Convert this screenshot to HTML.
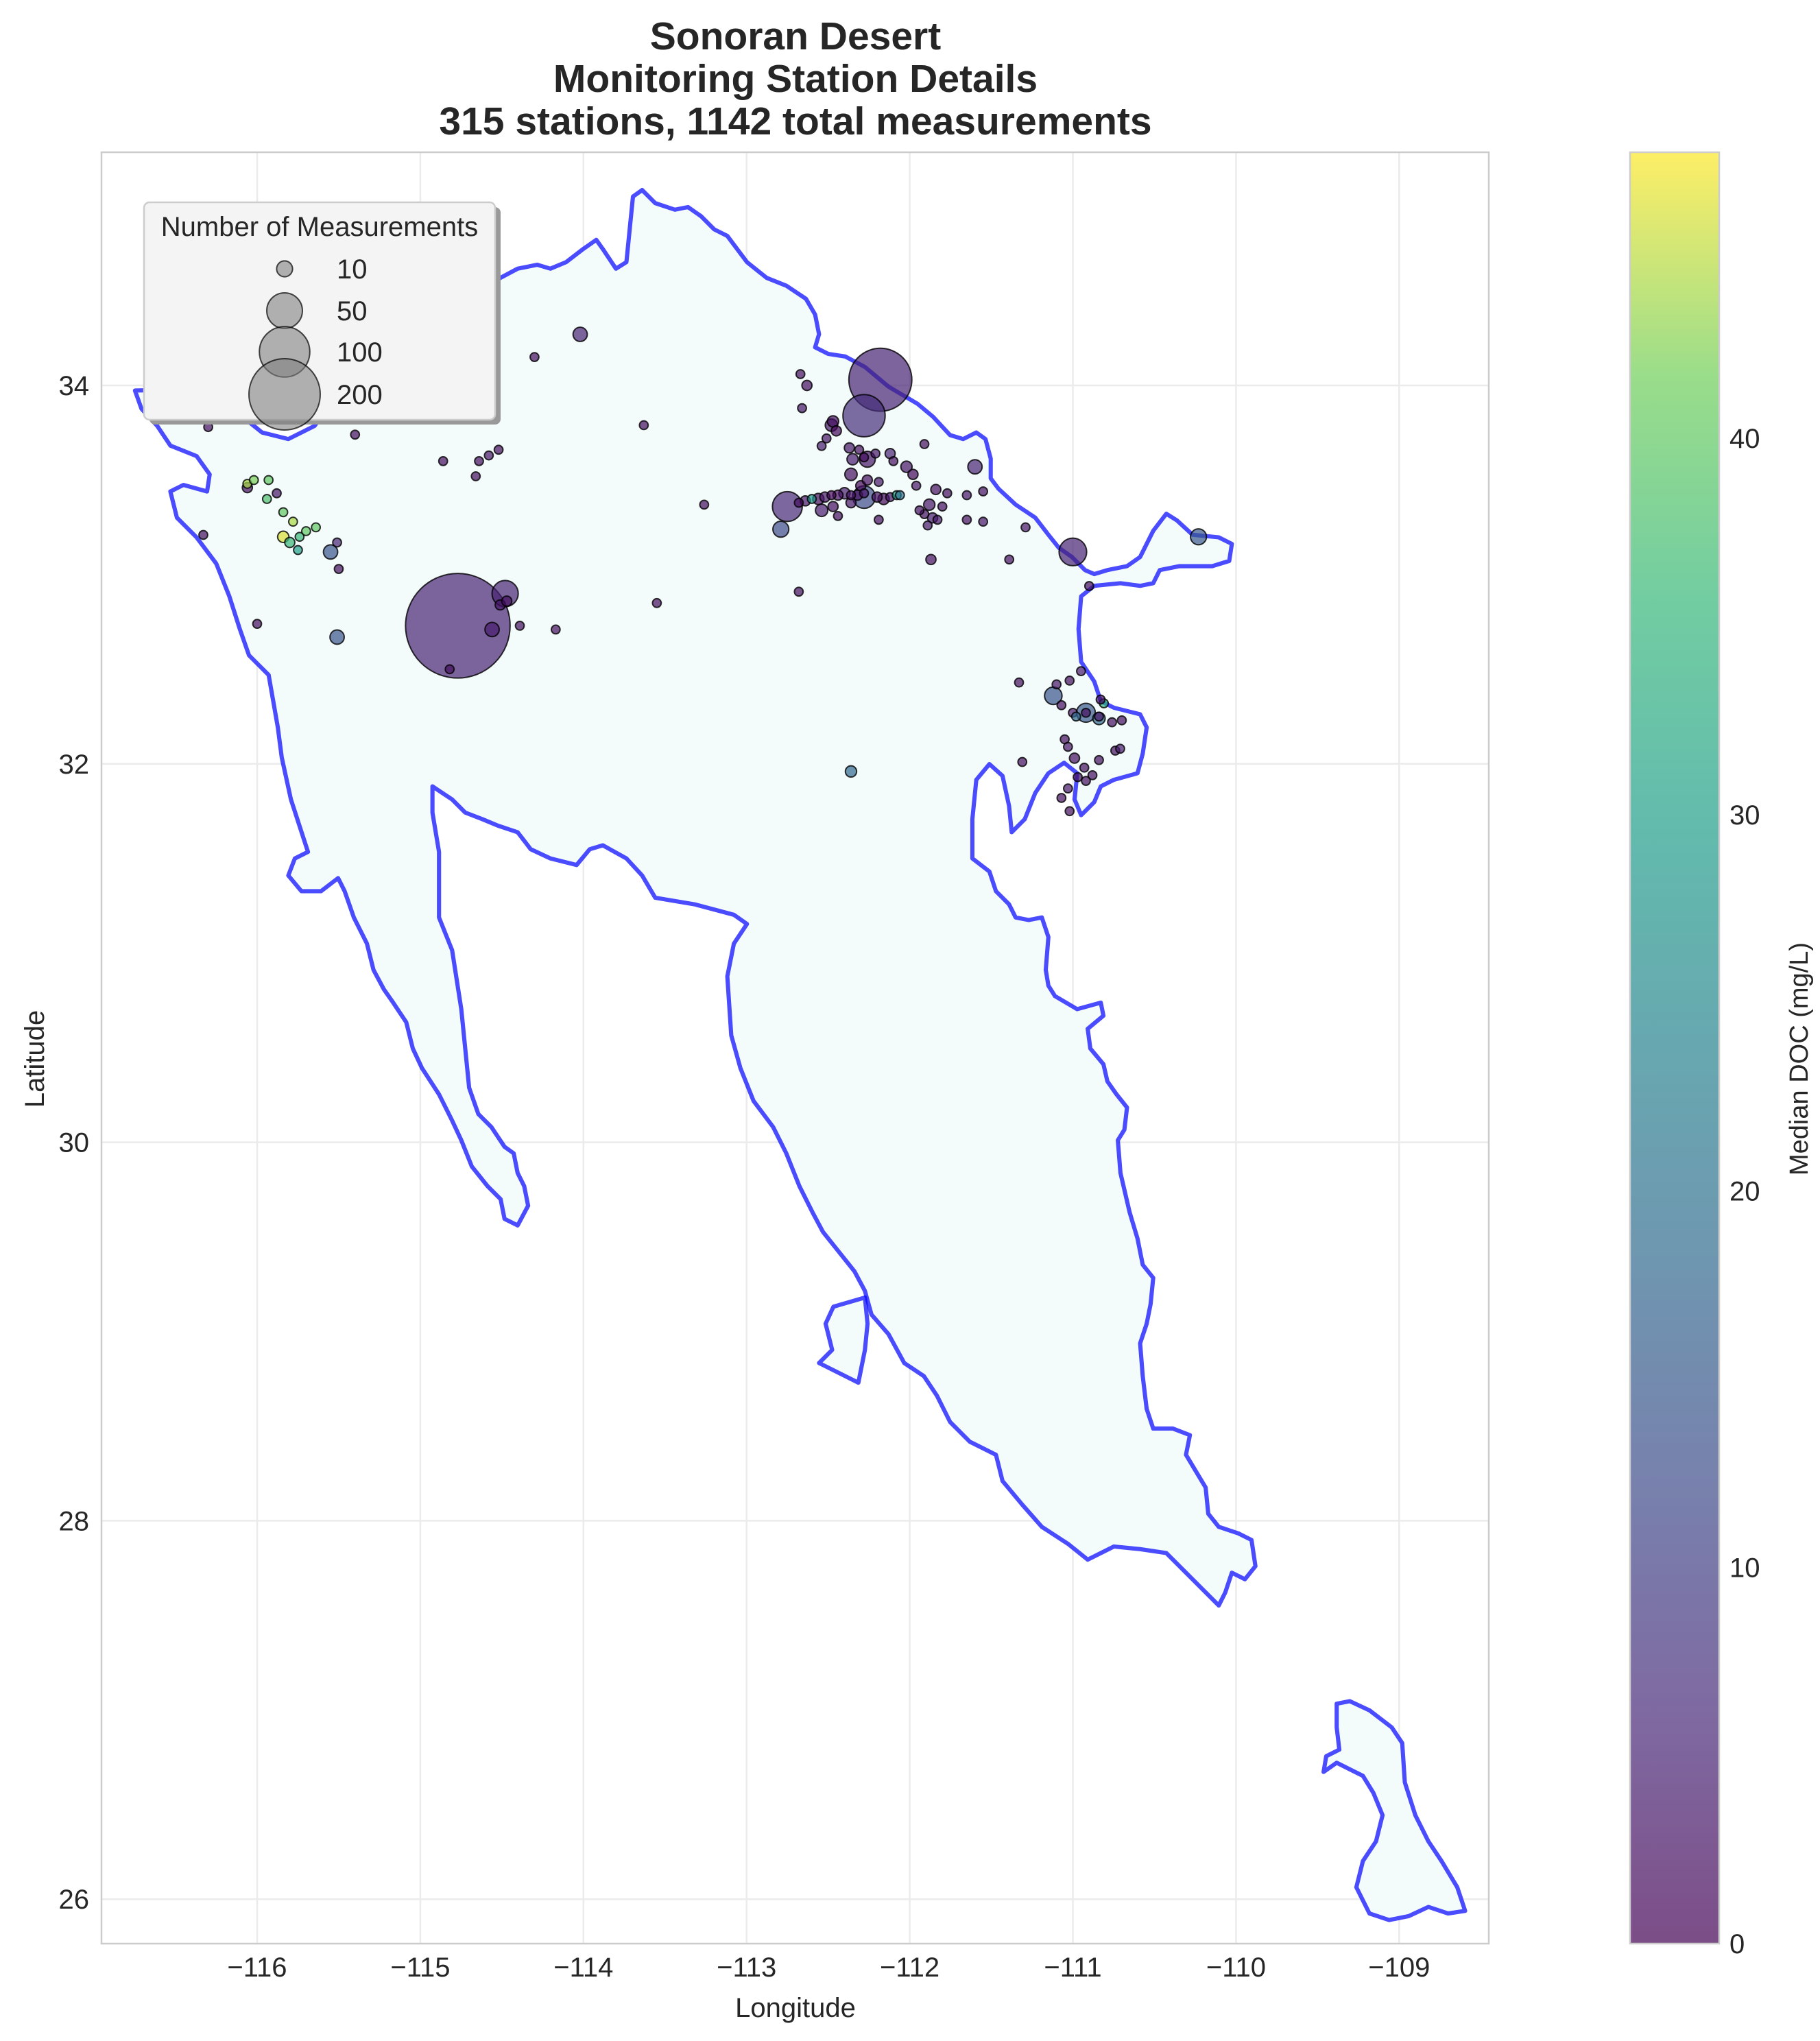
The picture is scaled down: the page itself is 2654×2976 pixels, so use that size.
<!DOCTYPE html>
<html><head><meta charset="utf-8"><style>
html,body{margin:0;padding:0;background:#fff}
svg{display:block;font-family:"Liberation Sans",sans-serif}
</style></head><body>
<svg id="chart" width="2654" height="2976" viewBox="0 0 2654 2976" xmlns="http://www.w3.org/2000/svg">
<defs>
<linearGradient id="viridis" x1="0" y1="1" x2="0" y2="0">
<stop offset="0" stop-color="#440154"/><stop offset="0.125" stop-color="#482878"/><stop offset="0.25" stop-color="#3e4989"/><stop offset="0.375" stop-color="#31688e"/><stop offset="0.5" stop-color="#26828e"/><stop offset="0.625" stop-color="#1f9e89"/><stop offset="0.75" stop-color="#35b779"/><stop offset="0.875" stop-color="#6ece58"/><stop offset="1" stop-color="#fde725"/>
</linearGradient>
<clipPath id="axclip"><rect x="148" y="222" width="2023" height="2612"/></clipPath>
</defs>
<text x="1160" y="72" text-anchor="middle" font-size="57" font-weight="bold" fill="#262626">Sonoran Desert</text>
<text x="1160" y="134" text-anchor="middle" font-size="57" font-weight="bold" fill="#262626">Monitoring Station Details</text>
<text x="1160" y="196" text-anchor="middle" font-size="57" font-weight="bold" fill="#262626">315 stations, 1142 total measurements</text>
<rect x="148" y="222" width="2023" height="2612" fill="#fff"/>
<g id="grid"></g>
<g clip-path="url(#axclip)">
<g transform="scale(1.911)" fill="#f4fbfb" stroke="rgba(0,0,255,0.7)" stroke-width="3.2" stroke-linejoin="round">
<path d="M103,298 L150,297 L175,310 L200,330 L220,335 L240,325 L258,300 L268,270 L270,238 L290,235 L310,245 L325,240 L330,225 L345,215 L360,210 L380,213 L395,205 L410,202 L420,205 L432,200 L445,190 L455,183 L460,190 L470,205 L478,200 L480,180 L483,150 L490,145 L500,155 L515,160 L525,158 L535,165 L545,175 L555,180 L570,200 L585,212 L600,218 L615,228 L622,240 L625,255 L622,265 L632,270 L645,272 L660,280 L678,295 L700,308 L712,318 L725,332 L735,335 L745,330 L752,335 L756,350 L756,365 L762,373 L775,385 L790,395 L800,408 L808,418 L818,425 L828,435 L835,438 L845,435 L860,432 L870,425 L880,405 L890,392 L898,397 L910,408 L930,410 L940,415 L938,428 L925,432 L900,432 L885,435 L880,445 L870,447 L855,445 L835,447 L825,455 L823,480 L825,505 L835,520 L840,535 L850,540 L870,545 L875,555 L872,575 L868,590 L850,595 L840,600 L835,612 L825,622 L820,610 L822,590 L812,582 L800,590 L790,605 L782,625 L772,635 L770,615 L765,592 L755,583 L745,595 L742,625 L742,655 L755,665 L760,680 L770,690 L775,700 L785,702 L795,700 L800,715 L798,740 L800,752 L805,760 L822,770 L840,765 L842,775 L830,785 L832,800 L842,812 L845,825 L852,835 L860,845 L858,862 L853,870 L855,895 L862,925 L868,945 L872,965 L880,975 L878,995 L875,1010 L870,1025 L872,1050 L875,1075 L880,1090 L895,1090 L908,1095 L905,1110 L920,1135 L922,1155 L930,1165 L945,1170 L955,1175 L958,1195 L950,1205 L940,1200 L935,1215 L930,1225 L920,1215 L910,1205 L900,1195 L890,1185 L870,1182 L850,1180 L830,1190 L815,1178 L795,1165 L780,1148 L765,1130 L760,1110 L740,1100 L725,1085 L715,1065 L705,1050 L690,1040 L678,1018 L665,1003 L660,985 L652,970 L640,955 L628,940 L620,925 L610,905 L600,880 L590,860 L575,840 L565,815 L558,790 L555,745 L560,720 L570,705 L560,698 L530,690 L500,685 L490,668 L478,655 L460,645 L450,648 L440,660 L420,655 L405,648 L395,635 L380,630 L368,625 L355,620 L345,610 L330,600 L330,620 L335,650 L335,700 L345,725 L352,770 L355,800 L358,830 L365,850 L375,860 L385,875 L392,880 L395,895 L400,905 L403,920 L395,935 L385,930 L382,915 L372,905 L360,890 L352,870 L345,855 L335,835 L322,815 L315,800 L310,780 L300,765 L293,755 L285,740 L280,720 L270,700 L263,680 L258,670 L245,680 L230,680 L220,668 L225,655 L235,650 L222,610 L215,578 L212,555 L205,515 L190,500 L183,480 L175,455 L165,430 L150,410 L135,395 L130,375 L140,370 L158,375 L160,362 L150,348 L130,340 L120,325 L108,312 Z"/>
<path d="M1020,1300 L1030,1298 L1045,1305 L1062,1318 L1070,1330 L1072,1360 L1080,1385 L1090,1405 L1100,1420 L1112,1440 L1118,1458 L1105,1460 L1090,1455 L1075,1462 L1060,1465 L1045,1460 L1035,1440 L1040,1420 L1050,1405 L1055,1385 L1048,1368 L1040,1355 L1030,1350 L1020,1345 L1010,1352 L1012,1340 L1022,1335 L1020,1318 Z"/>
<path d="M636,997 L660,990 L662,1010 L660,1030 L655,1055 L645,1050 L625,1040 L635,1030 L630,1010 Z"/>
</g>
<g id="points"></g>
</g>
<rect x="148" y="222" width="2023" height="2612" fill="none" stroke="#cccccc" stroke-width="2.5"/>
<g id="ticks"></g>
<text x="1160" y="2941" text-anchor="middle" font-size="40" fill="#262626">Longitude</text>
<text transform="translate(64,1544) rotate(-90)" text-anchor="middle" font-size="40" fill="#262626">Latitude</text>
<g>
<rect x="218" y="302" width="512" height="317" rx="8" fill="#999"/>
<rect x="210" y="295" width="512" height="317" rx="8" fill="#f4f4f4" stroke="#cccccc" stroke-width="2.5"/>
<text x="466" y="344" text-anchor="middle" font-size="40" fill="#262626">Number of Measurements</text>
<g id="legendItems"></g>
</g>
<rect x="2377" y="222" width="130" height="2612" fill="url(#viridis)" opacity="0.7"/>
<rect x="2377" y="222" width="130" height="2612" fill="none" stroke="#cccccc" stroke-width="2.5"/>
<g id="cbticks"></g>
<text transform="translate(2636,1544) rotate(-90)" text-anchor="middle" font-size="38" fill="#262626">Median DOC (mg/L)</text>
</svg>
<script>
const xTicks=[-116,-115,-114,-113,-112,-111,-110,-109];
const yTicks=[26,28,30,32,34];
const cbTicks=[0,10,20,30,40];
const legendCounts=[10,50,100,200];
const stationLon=[-114.77,-114.48,-114.56,-114.51,-114.47,-112.18,-112.28,-112.75,-112.28,-111.00,-112.79,-110.23,-111.60,-114.02,-115.51,-112.36,-111.12,-110.92,-110.84,-115.55,-115.75,
-116.06,-116.02,-115.93,-115.94,-115.88,-115.84,-115.84,-115.78,-115.74,-115.70,-115.64,-115.80,-116.06,-115.51,-115.50,-116.00,-116.33,-115.40,-116.30,
-112.68,-112.64,-112.60,-112.56,-112.52,-112.48,-112.44,-112.40,-112.36,-112.32,-112.28,-112.20,-112.16,-112.12,-112.08,-112.06,-112.54,-112.47,-112.36,-112.44,-112.30,-112.26,-112.19,-112.35,-112.28,-112.21,-112.31,-112.37,-112.12,-112.10,-112.02,-111.91,-111.98,-111.96,-111.84,-111.80,-111.88,-111.86,-111.91,-111.83,-111.89,-111.94,-111.77,-111.65,-111.55,-111.65,-111.55,-111.39,-111.29,-111.87,-112.19,-112.48,-112.47,-112.45,-112.51,-112.54,-112.36,-112.26,-112.63,-112.67,-112.66,
-113.63,-114.30,-114.86,-114.64,-114.58,-114.52,-114.66,-114.82,-114.39,-114.17,-113.55,-113.26,-112.68,-110.90,-111.33,-111.10,-111.02,-110.95,-111.07,-111.00,-110.98,-110.92,-110.84,-110.76,-111.05,-111.03,-110.99,-110.93,-110.92,-110.88,-110.97,-111.03,-111.07,-111.02,-110.84,-110.74,-110.71,-111.31,-110.81,-110.83,-110.70];
const stationLat=[32.73,32.90,32.71,32.84,32.86,34.03,33.84,33.36,33.41,33.12,33.24,33.20,33.57,34.27,32.67,31.96,32.36,32.27,32.24,33.12,33.13,
33.48,33.50,33.50,33.40,33.43,33.33,33.20,33.28,33.20,33.23,33.25,33.17,33.46,33.17,33.03,32.74,33.21,33.74,33.78,
33.38,33.39,33.40,33.40,33.41,33.42,33.42,33.43,33.42,33.42,33.43,33.41,33.40,33.41,33.42,33.42,33.34,33.36,33.38,33.31,33.47,33.50,33.49,33.61,33.62,33.64,33.66,33.67,33.64,33.60,33.57,33.69,33.53,33.47,33.45,33.36,33.37,33.30,33.32,33.29,33.26,33.34,33.43,33.42,33.44,33.29,33.28,33.08,33.25,33.08,33.29,33.79,33.81,33.76,33.72,33.68,33.53,33.61,34.00,34.06,33.88,
33.79,34.15,33.60,33.60,33.63,33.66,33.52,32.50,32.73,32.71,32.85,33.37,32.91,32.94,32.43,32.42,32.44,32.49,32.31,32.27,32.25,32.27,32.25,32.22,32.13,32.09,32.03,31.98,31.91,31.94,31.93,31.87,31.82,31.75,32.02,32.07,32.08,32.01,32.32,32.34,32.23];
const stationCount=[430,27,8,4,4,156,70,35,20,30,10,10,8,8,8,5,12,14,6,8,3,
3,3,3,3,3,3,5,3,3,3,3,4,4,3,3,3,3,3,3,
3,4,3,5,4,3,4,5,3,4,3,4,5,3,3,3,6,4,4,3,4,4,3,5,3,3,3,4,4,3,5,3,4,3,4,3,5,4,3,3,3,3,3,3,3,3,3,3,3,4,3,6,5,4,3,3,6,10,4,3,3,
3,3,3,3,3,3,3,3,3,3,3,3,3,3,3,3,3,3,3,3,3,3,3,3,3,3,4,3,3,3,3,3,3,3,3,3,3,3,3,3,3];
const stationDoc=[5,5,4,3,2,5,7,6,12,5,12,15,5,5,14,18,14,15,18,14,30,
44,42,40,38,3,40,46,44,36,40,40,36,2,5,2,2,2,2,2,
2,3,28,2,3,1,2,4,3,2,3,2,1,3,30,20,4,2,3,2,1,2,3,4,2,3,2,3,5,2,3,2,1,3,2,2,3,4,2,3,3,2,2,3,2,2,3,2,3,2,2,3,2,1,3,4,2,3,2,2,3,
2,2,2,2,3,2,2,2,2,2,2,2,2,2,2,3,2,4,2,3,18,2,3,2,2,3,2,2,2,2,2,3,2,2,2,2,4,2,35,2,2];
const cmin=0,cmax=47.6;
function xs(lon){return 375+(lon+116)*237.9;}
function ys(lat){return 562+(34-lat)*275.9;}
function rs(n){return 52*Math.sqrt(n/200);}
function cbY(v){return 2834-(v-cmin)/(cmax-cmin)*2612;}
const vir=[[68,1,84],[72,40,120],[62,73,137],[49,104,142],[38,130,142],[31,158,137],[53,183,121],[110,206,88],[253,231,37]];
function viridis(v){let t=Math.max(0,Math.min(1,(v-cmin)/(cmax-cmin)))*8;let i=Math.min(7,Math.floor(t)),f=t-i;
const c=vir[i].map((a,k)=>Math.round(a+(vir[i+1][k]-a)*f));return 'rgb('+c.join(',')+')';}
const NS='http://www.w3.org/2000/svg';
function mk(tag,attrs,parent){const e=document.createElementNS(NS,tag);for(const k in attrs)e.setAttribute(k,attrs[k]);parent.appendChild(e);return e;}
const grid=document.getElementById('grid'),ticks=document.getElementById('ticks');
xTicks.forEach(v=>{const l=mk('line',{x1:xs(v),x2:xs(v),y1:222,y2:2834,stroke:'#ebebeb','stroke-width':2.5},grid);


const t=mk('text',{x:xs(v),y:2882,'text-anchor':'middle','font-size':40,fill:'#262626'},ticks);t.textContent='\u2212'+Math.abs(v);

});
yTicks.forEach(v=>{const l=mk('line',{x1:148,x2:2171,y1:ys(v),y2:ys(v),stroke:'#ebebeb','stroke-width':2.5},grid);


const t=mk('text',{x:130,y:ys(v)+14,'text-anchor':'end','font-size':40,fill:'#262626'},ticks);t.textContent=v;

});
const pts=document.getElementById('points');
const order=stationCount.map((c,i)=>i).sort((a,b)=>stationCount[b]-stationCount[a]);
order.forEach(i=>{const c=mk('circle',{cx:xs(stationLon[i]),cy:ys(stationLat[i]),r:rs(stationCount[i]),fill:viridis(stationDoc[i]),'fill-opacity':0.7,stroke:'#000','stroke-opacity':0.8,'stroke-width':2},pts);

});
const li=document.getElementById('legendItems');
const legY=[392,453,513,575];
legendCounts.forEach((n,i)=>{const c=mk('circle',{cx:415,cy:legY[i],r:rs(n),fill:'rgba(128,128,128,0.6)',stroke:'#000','stroke-opacity':0.7,'stroke-width':2},li);


const t=mk('text',{x:491,y:legY[i]+14,'font-size':40,fill:'#262626'},li);t.textContent=n;

});
const cbt=document.getElementById('cbticks');
cbTicks.forEach(v=>{const t=mk('text',{x:2522,y:cbY(v)+14,'font-size':40,fill:'#262626'},cbt);t.textContent=v;

});
</script>
</body></html>
